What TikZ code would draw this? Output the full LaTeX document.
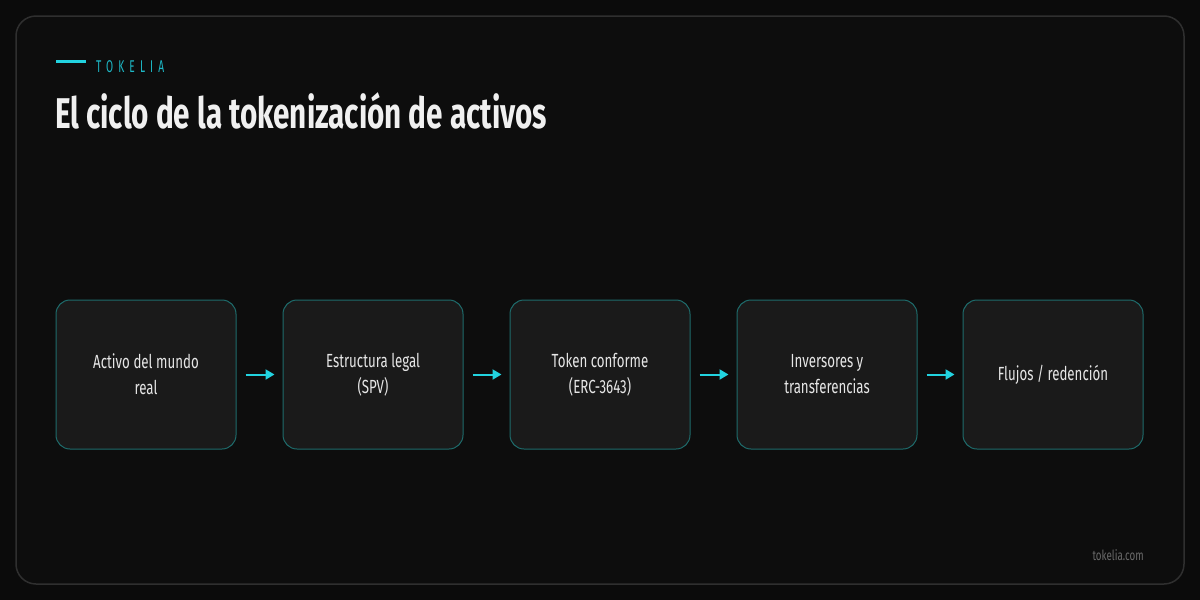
\documentclass[tikz,border=0pt]{standalone}
\usepackage{fontspec}
\usetikzlibrary{positioning,arrows.meta}
\newfontfamily\titlefont[FakeStretch=0.69]{Fira Sans}
\newfontfamily\boxfont[FakeStretch=0.7]{Fira Sans}
\newfontfamily\brandfont[FakeStretch=0.6,LetterSpace=30]{Fira Sans}
\definecolor{bgdark}{HTML}{0B0B0B}
\definecolor{paneledge}{HTML}{2F2F2F}
\definecolor{panelfill}{HTML}{0D0D0D}
\definecolor{boxfill}{HTML}{1A1A1A}
\definecolor{boxedge}{HTML}{1E6B6B}
\definecolor{tcyan}{HTML}{22D3E0}
\definecolor{brandcyan}{HTML}{1DB8C6}
\definecolor{titlewhite}{HTML}{F0F0F0}
\definecolor{boxtext}{HTML}{E6E6E6}
\definecolor{footgrey}{HTML}{6A6A6A}

\begin{document}
\begin{tikzpicture}[x=1pt, y=-1pt,
	stage/.style={draw=boxedge, line width=1pt, fill=boxfill, rounded corners=14pt,
		minimum width=180pt, minimum height=149pt, inner sep=0pt, text width=160pt,
		align=flush center, text=boxtext, font=\boxfont\fontsize{19}{26}\selectfont},
	flow/.style={tcyan, line width=2pt, -{Triangle[length=9pt,width=10pt]},
		shorten <=9pt, shorten >=8pt}]
		%%%%% START %%%%%
		
		\fill[bgdark] (0, 0) rectangle (1200, 600);
		\draw[paneledge, fill=panelfill, line width=1.5pt, rounded corners=20pt] (16, 16) rectangle (1184, 584);
		
		\draw[tcyan, line width=3pt] (56, 61) -- (86, 61);
		\node[anchor=base west, inner sep=0pt, text=brandcyan, font=\brandfont\fontsize{17}{17}\selectfont] (brand) at (96, 72) {TOKELIA};
		\node[anchor=base west, inner sep=0pt, text=titlewhite, font=\titlefont\bfseries\fontsize{43}{43}\selectfont] (title) at (55, 128) {El ciclo de la tokenización de activos};
		
		\node[stage] (activo) at (146, 374.5) {Activo del mundo\\real};
		\node[stage, right=46pt of activo] (legal) {Estructura legal\\(SPV)};
		\node[stage, right=46pt of legal] (token) {Token conforme\\(ERC-3643)};
		\node[stage, right=46pt of token] (inversores) {Inversores y\\transferencias};
		\node[stage, right=45pt of inversores] (flujos) {Flujos / redención};
		
		\draw[flow] (activo) -- (legal);
		\draw[flow] (legal) -- (token);
		\draw[flow] (token) -- (inversores);
		\draw[flow] (inversores) -- (flujos);
		
		\node[anchor=base east, inner sep=0pt, text=footgrey, font=\boxfont\fontsize{14}{14}\selectfont] (site) at (1144, 560) {tokelia.com};
		
		%%%%% END %%%%%
	\end{tikzpicture}
\end{document}
